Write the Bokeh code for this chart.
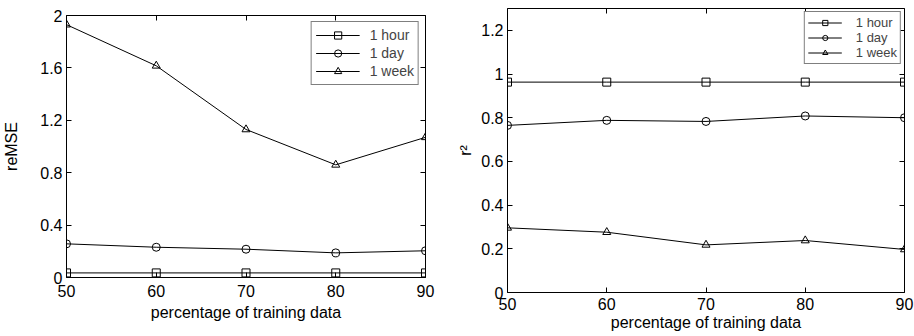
from bokeh.plotting import figure
from bokeh.layouts import row, column
from bokeh.models import (FixedTicker, NumeralTickFormatter, LinearAxis, Legend,
                          LegendItem, Range1d)
from bokeh.embed import file_html
from bokeh.resources import INLINE

pct = [50, 60, 70, 80, 90]
x_ticks = [50, 60, 70, 80, 90]

remse_hour = [0.035, 0.035, 0.035, 0.035, 0.035]
remse_day = [0.257, 0.231, 0.216, 0.188, 0.204]
remse_week = [1.93, 1.616, 1.13, 0.86, 1.07]
remse_ticks = [0, 0.4, 0.8, 1.2, 1.6, 2.0]

r2_hour = [0.963, 0.963, 0.963, 0.963, 0.963]
r2_day = [0.765, 0.788, 0.783, 0.808, 0.80]
r2_week = [0.296, 0.276, 0.218, 0.238, 0.197]
r2_ticks = [0, 0.2, 0.4, 0.6, 0.8, 1.0, 1.2]

series_names = ["1 hour", "1 day", "1 week"]
markers = ["square", "circle", "triangle"]

FONT = "Liberation Sans"


def style_axis(ax, font_size, standoff):
    ax.major_label_text_font = FONT
    ax.major_label_text_font_size = font_size
    ax.major_label_text_color = "black"
    ax.axis_label_text_font = FONT
    ax.axis_label_text_font_size = "16px"
    ax.axis_label_text_font_style = "normal"
    ax.axis_label_text_color = "black"
    ax.major_tick_in = 5
    ax.major_tick_out = 0
    ax.minor_tick_line_color = None
    ax.axis_line_color = None
    ax.major_tick_line_color = "black"
    ax.major_label_standoff = standoff


def make_plot(width, height, borders, y_end, yticks, ys, ylabel, legend_cfg,
              xstandoff, xlabel_standoff, ystandoff, ylabel_standoff):
    p = figure(width=width, height=height, output_backend="svg",
               toolbar_location=None, x_range=Range1d(50, 90),
               y_range=Range1d(0, y_end),
               min_border_left=borders[0], min_border_right=borders[1],
               min_border_top=borders[2], min_border_bottom=borders[3])
    p.xgrid.visible = False
    p.ygrid.visible = False
    p.outline_line_color = "black"
    p.outline_line_width = 1
    p.outline_line_alpha = 1
    p.background_fill_color = "white"
    p.border_fill_color = "white"

    p.xaxis.ticker = FixedTicker(ticks=x_ticks)
    p.yaxis.ticker = FixedTicker(ticks=yticks)
    p.yaxis.formatter = NumeralTickFormatter(format="0.[0]")
    p.xaxis.axis_label = "percentage of training data"
    p.yaxis.axis_label = ylabel
    style_axis(p.xaxis[0], "16px", xstandoff)
    style_axis(p.yaxis[0], "16px", ystandoff)
    p.xaxis.axis_label_standoff = xlabel_standoff
    p.yaxis.axis_label_standoff = ylabel_standoff

    top = LinearAxis(ticker=FixedTicker(ticks=x_ticks))
    right = LinearAxis(ticker=FixedTicker(ticks=yticks))
    for ax in (top, right):
        style_axis(ax, "0px", 0)
        ax.major_label_text_alpha = 0
    p.add_layout(top, "above")
    p.add_layout(right, "right")

    items = []
    for name, mk, y in zip(series_names, markers, ys):
        l = p.line(pct, y, line_color="black", line_width=1)
        s = p.scatter(pct, y, marker=mk, size=8, fill_color=None,
                      line_color="black", line_width=1)
        items.append(LegendItem(label=name, renderers=[l, s]))

    leg = Legend(items=items, location="top_right")
    leg.label_text_font = FONT
    leg.label_text_font_size = legend_cfg["fs"]
    leg.label_text_line_height = 1.0
    leg.label_height = legend_cfg["lh"]
    leg.glyph_height = legend_cfg["lh"]
    leg.glyph_width = legend_cfg["gw"]
    leg.label_standoff = legend_cfg["so"]
    leg.spacing = 0
    leg.padding = legend_cfg["pad"]
    leg.margin = legend_cfg["margin"]
    leg.border_line_color = "black"
    leg.border_line_width = 1
    leg.background_fill_alpha = 1
    p.add_layout(leg, "center")
    return p


p1 = make_plot(454, 334, (60, 29, 15, 57), 2.0, remse_ticks,
               [remse_hour, remse_day, remse_week], "reMSE",
               {"fs": "14px", "lh": 18, "pad": 4, "margin": 6,
                "gw": 44, "so": 10},
               7, 4, 4, 17)
p2 = make_plot(460, 334, (50, 10, 8, 42), 1.3, r2_ticks,
               [r2_hour, r2_day, r2_week], "r²",
               {"fs": "13px", "lh": 13, "pad": 3, "margin": 3,
                "gw": 34, "so": 14},
               5, 1, 4, 4)

layout = row(column(p1), column(p2))
open("out.html", "w").write(file_html(layout, INLINE))
